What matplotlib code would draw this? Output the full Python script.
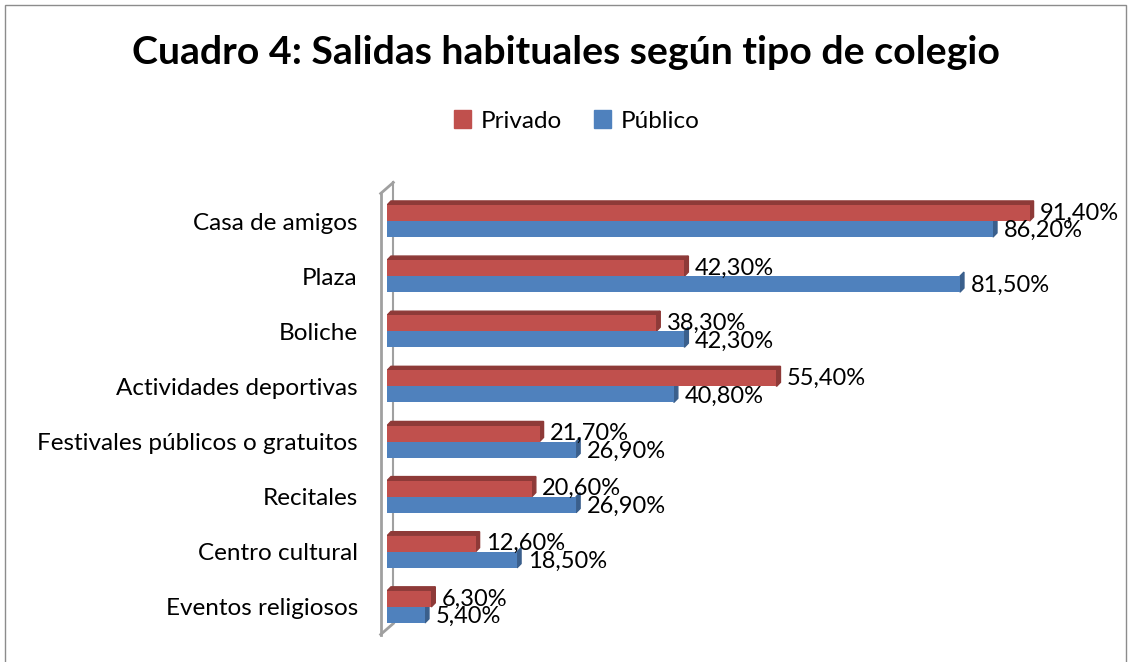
import matplotlib.pyplot as plt
from matplotlib.patches import Polygon, Rectangle, Patch

categorias = ["Casa de amigos", "Plaza", "Boliche", "Actividades deportivas",
              "Festivales públicos o gratuitos", "Recitales", "Centro cultural",
              "Eventos religiosos"]
privado = [91.4, 42.3, 38.3, 55.4, 21.7, 20.6, 12.6, 6.3]
publico = [86.2, 81.5, 42.3, 40.8, 26.9, 26.9, 18.5, 5.4]

ROJO, ROJO_OSC = "#C0504D", "#8E3A38"
AZUL, AZUL_OSC = "#4F81BD", "#3A5F8C"
FONT = "Lato"

fig = plt.figure(figsize=(11.31, 6.62), dpi=100)
ax = fig.add_axes([387 / 1131, 1 - 634.5 / 662, (1090 - 387) / 1131, 441 / 662])

h = 0.29
dx, dy = 0.57, 0.075  # 3D depth in data units


def barra(y, v, color, osc, top=True):
    ax.barh(y, v, height=h, color=color, zorder=3)
    yt, yb = y - h / 2, y + h / 2
    if top:
        ax.add_patch(Polygon([(0, yt), (v, yt), (v + dx, yt - dy), (dx, yt - dy)],
                             closed=True, color=osc, zorder=2))
    ax.add_patch(Polygon([(v, yt), (v + dx, yt - dy), (v + dx, yb - dy), (v, yb)],
                         closed=True, color=osc, zorder=2))


for i, (pr, pu) in enumerate(zip(privado, publico)):
    barra(i + h / 2, pu, AZUL, AZUL_OSC, top=False)
    barra(i - h / 2, pr, ROJO, ROJO_OSC)
    ax.text(pr + 1.5, i - h / 2, f"{pr:.2f}%".replace(".", ","), va="center",
            ha="left", fontsize=17, family=FONT, zorder=5)
    ax.text(pu + 1.5, i + h / 2 + 0.03, f"{pu:.2f}%".replace(".", ","), va="center",
            ha="left", fontsize=17, family=FONT, zorder=5)

ax.set_xlim(0, 100)
ax.set_ylim(len(categorias) - 0.5, -0.5)
ax.set_yticks(range(len(categorias)))
ax.set_yticklabels(categorias, fontsize=17.5, family=FONT)
ax.tick_params(axis="y", length=0, pad=21)
ax.set_xticks([])
for s in ax.spines.values():
    s.set_visible(False)

# 3D wall edge
tr = ax.transAxes
ax.plot([-0.009, -0.009], [-0.0, 1.0], color="#A0A0A0", lw=2, transform=tr, clip_on=False, zorder=1)
ax.plot([-0.009, 0.009], [1.0, 1.025], color="#A0A0A0", lw=2, transform=tr, clip_on=False, zorder=1)
ax.plot([-0.009, 0.009], [0.0, 0.025], color="#A0A0A0", lw=2, transform=tr, clip_on=False, zorder=1)
ax.plot([0.009, 0.009], [0.025, 1.025], color="#A0A0A0", lw=1.5, transform=tr, clip_on=False, zorder=0)

fig.text(0.5, 1 - 53 / 662, "Cuadro 4: Salidas habituales según tipo de colegio",
         ha="center", va="center", fontsize=28.3, fontweight="bold", family=FONT)

handles = [Patch(color=ROJO, label="Privado"), Patch(color=AZUL, label="Público")]
fig.legend(handles=handles, loc="center", bbox_to_anchor=(0.51, 1 - 121 / 662), ncol=2,
           frameon=False, prop={"family": FONT, "size": 17.5}, handlelength=0.7,
           handleheight=0.7, handletextpad=0.4, columnspacing=1.3)

fig.patches.append(Rectangle((0.004, -0.01), 0.992, 1.002, transform=fig.transFigure,
                             fill=False, edgecolor="#8C8C8C", lw=1))

fig.savefig("out.png", dpi=100)
